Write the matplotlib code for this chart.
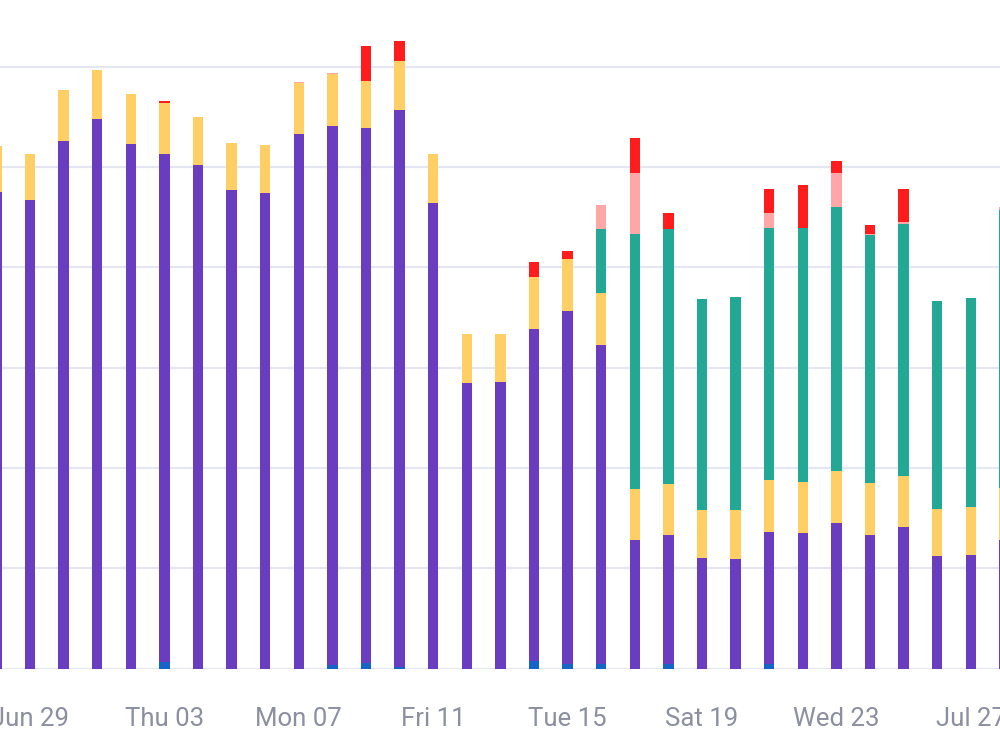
import numpy as np
import pandas as pd
import matplotlib
matplotlib.use("Agg")
import matplotlib.pyplot as plt

# giorni: 28 giugno -> 28 luglio
giorni = pd.date_range("2025-06-28", "2025-07-28", freq="D")

# altezze dei segmenti (dal basso verso l'alto)
blu = [0, 0, 0, 0, 0, 6, 0, 0, 0, 0, 3, 5, 1, 0, 0, 0, 7, 4, 4, 0,
       4, 0, 0, 4, 0, 0, 0, 0, 0, 0, 0]
viola = [475, 467, 526, 548, 523, 507, 502, 477, 474, 533, 538, 534, 556, 464, 285, 286,
         331, 352, 318, 128, 129, 110, 109, 132, 135, 145, 133, 141, 112, 113, 128]
giallo = [46, 46, 51, 49, 50, 51, 48, 47, 48, 51, 52, 47, 49, 49, 48, 47,
          52, 52, 52, 51, 51, 48, 49, 52, 51, 52, 52, 51, 47, 48, 52]
verde = [0, 0, 0, 0, 0, 0, 0, 0, 0, 0, 0, 0, 0, 0, 0, 0,
         0, 0, 64, 254, 254, 210, 212, 251, 253, 263, 247, 251, 207, 208, 277]
rosa = [0, 0, 0, 0, 0, 0, 0, 0, 0, 1, 1, 0, 0, 0, 0, 0,
        0, 0, 24, 61, 0, 0, 0, 15, 0, 34, 1, 2, 0, 0, 3]
rosso = [0, 0, 0, 0, 0, 2, 0, 0, 0, 0, 0, 34, 19, 0, 0, 0,
         15, 8, 0, 35, 16, 0, 0, 24, 43, 12, 9, 33, 0, 0, 0]

etichette_pos = ["2025-06-29", "2025-07-03", "2025-07-07", "2025-07-11",
                 "2025-07-15", "2025-07-19", "2025-07-23", "2025-07-27"]
etichette = ["Jun 29", "Thu 03", "Mon 07", "Fri 11", "Tue 15", "Sat 19", "Wed 23", "Jul 27"]

serie = [
    (blu, "#1565c8"),
    (viola, "#6a3cc0"),
    (giallo, "#ffcf66"),
    (verde, "#22a894"),
    (rosa, "#ffa6a6"),
    (rosso, "#ff1c1c"),
]

fig = plt.figure(figsize=(10, 7.51), dpi=100)
# asse a tutta larghezza, base delle barre a ~667 px dall'alto
ax = fig.add_axes([0, 82.5 / 751, 1, 668.5 / 751])

x = np.arange(len(giorni))
base = np.zeros(len(giorni))
for valori, colore in serie:
    valori = np.array(valori, dtype=float)
    ax.bar(x, valori, bottom=base, width=0.31, color=colore, zorder=3)
    base += valori

for livello in range(0, 700, 100):
    ax.axhline(livello, color="#e4e6f1", lw=1.5, zorder=1)

ax.set_xlim(3.6 / 33.6, 1003.6 / 33.6)
ax.set_ylim(0, 668.5 / 1.0033)

pos = [list(giorni.strftime("%Y-%m-%d")).index(d) for d in etichette_pos]
ax.set_xticks(pos)
ax.set_xticklabels(etichette, fontsize=18.5, color="#8b8fa0", fontfamily="Roboto")
ax.tick_params(axis="x", length=0, pad=28)
ax.set_yticks([])
for s in ax.spines.values():
    s.set_visible(False)

fig.savefig("out.png", dpi=100)
